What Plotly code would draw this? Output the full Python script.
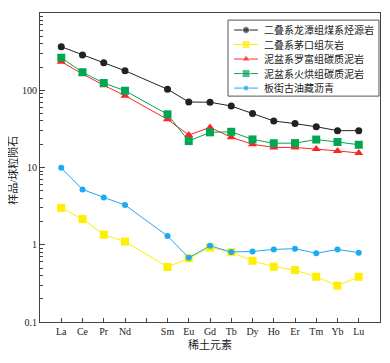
import plotly.graph_objects as go

elements = ["La", "Ce", "Pr", "Nd", "Pm", "Sm", "Eu", "Gd", "Tb", "Dy", "Ho", "Er", "Tm", "Yb", "Lu"]
tick_labels = ["La", "Ce", "Pr", "Nd", "", "Sm", "Eu", "Gd", "Tb", "Dy", "Ho", "Er", "Tm", "Yb", "Lu"]
ree = ["La", "Ce", "Pr", "Nd", "Sm", "Eu", "Gd", "Tb", "Dy", "Ho", "Er", "Tm", "Yb", "Lu"]

longtan = [366, 286, 227, 179, 103, 70.5, 70, 62.5, 50, 40, 37, 33.7, 30, 30]
maokou = [3.0, 2.15, 1.35, 1.1, 0.515, 0.667, 0.92, 0.8, 0.62, 0.52, 0.47, 0.385, 0.295, 0.385]
luofu = [234, 162, 116, 85, 42, 26.3, 33, 24.6, 20, 18.2, 18.2, 17.4, 16.4, 15.4]
huohong = [264, 171, 124, 98.6, 48.8, 22, 28.5, 29, 23.1, 20.6, 20.7, 23, 21.4, 19.7]
banjie = [9.9, 5.2, 4.1, 3.27, 1.30, 0.68, 0.97, 0.805, 0.82, 0.87, 0.89, 0.775, 0.87, 0.79]

series = [
    ("二叠系龙潭组煤系烃源岩", longtan, "#222222", "circle", 7),
    ("二叠系茅口组灰岩", maokou, "#ffee00", "square", 8),
    ("泥盆系罗富组碳质泥岩", luofu, "#ff2424", "triangle-up", 8),
    ("泥盆系火烘组碳质泥岩", huohong, "#00a651", "square", 8),
    ("板街古油藏沥青", banjie, "#1eaaf0", "circle", 6),
]

xpos = [elements.index(e) + 1 for e in ree]

font_fam = "Liberation Serif, Noto Sans CJK SC, serif"
fig = go.Figure()
for name, vals, color, sym, size in series:
    fig.add_trace(go.Scatter(
        x=xpos, y=vals, name=name, mode="lines+markers", showlegend=False,
        line=dict(color=color, width=1),
        marker=dict(color=color, symbol=sym, size=size),
    ))

# compact custom legend drawn on an overlay axis spanning the plot area
leg_x0, leg_x1 = 0.553, 0.997
leg_y0, leg_y1 = 0.731, 0.977
row_y = [0.945, 0.898, 0.851, 0.804, 0.757]
samp_x0, samp_x1, samp_mx, text_x = 0.571, 0.641, 0.606, 0.652

fig.add_shape(type="rect", xref="paper", yref="paper", x0=leg_x0, x1=leg_x1,
              y0=leg_y0, y1=leg_y1, line=dict(color="#555", width=1),
              fillcolor="white", layer="below")
for (name, vals, color, sym, size), ry in zip(series, row_y):
    fig.add_trace(go.Scatter(
        x=[samp_x0, samp_mx, samp_x1], y=[ry, ry, ry], xaxis="x2", yaxis="y2",
        mode="lines+markers", showlegend=False, hoverinfo="skip",
        line=dict(color=color, width=1),
        marker=dict(color=color, symbol=sym, size=[0, size, 0]),
    ))
    fig.add_annotation(x=text_x, y=ry, xref="paper", yref="paper", text=name,
                       showarrow=False, xanchor="left", yanchor="middle",
                       font=dict(size=10, family=font_fam, color="#222"))

# page body has an 8px margin: shift the figure so the plot area sits where the reference has it
fig.update_layout(
    width=374, height=347,
    margin=dict(l=32, r=2, t=5, b=33),
    plot_bgcolor="white", paper_bgcolor="white",
    font=dict(family=font_fam, size=10, color="#222"),
    showlegend=False,
    xaxis=dict(
        range=[0, 16], tickvals=list(range(1, 16)), ticktext=tick_labels,
        ticks="inside", ticklen=4, tickcolor="#444", showgrid=False, zeroline=False,
        showline=True, linecolor="#444", linewidth=1, mirror=True, automargin=False,
        tickfont=dict(size=10),
    ),
    yaxis=dict(
        type="log", range=[-1, 3],
        tickvals=[0.1, 1, 10, 100, 1000], ticktext=["0.1", "1", "10", "100", "1 000"],
        ticks="inside", ticklen=5, tickcolor="#444", showgrid=False, zeroline=False,
        showline=True, linecolor="#444", linewidth=1, mirror=True, automargin=False,
        minor=dict(ticks="inside", ticklen=3, tickcolor="#444",
                   tickvals=[m * 10 ** e for e in range(-1, 3) for m in range(2, 10)]),
        tickfont=dict(size=10),
    ),
    xaxis2=dict(overlaying="x", range=[0, 1], visible=False, fixedrange=True),
    yaxis2=dict(overlaying="y", type="linear", range=[0, 1], visible=False, fixedrange=True),
)
fig.add_annotation(x=0.5, y=-0.074, xref="paper", yref="paper", text="稀土元素",
                   showarrow=False, xanchor="center", yanchor="middle",
                   font=dict(size=11, family=font_fam, color="#222"))
fig.add_annotation(x=-0.082, y=0.49, xref="paper", yref="paper", text="样品/球粒陨石",
                   showarrow=False, textangle=-90, xanchor="center", yanchor="middle",
                   font=dict(size=11, family=font_fam, color="#222"))
fig.write_html("out.html")
